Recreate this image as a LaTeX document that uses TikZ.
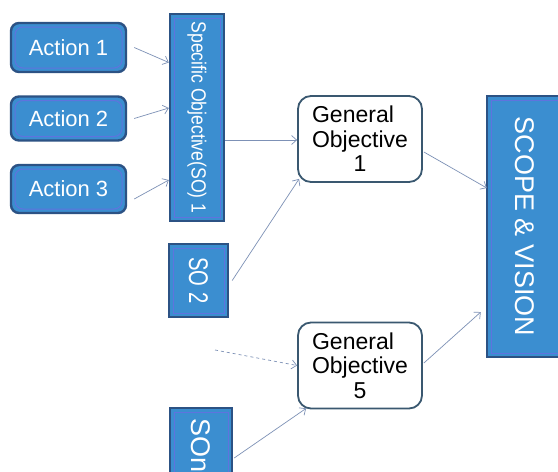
\documentclass[tikz,border=0pt]{standalone}
\usepackage{fontspec}
\setmainfont{Liberation Sans}
\usepackage{graphicx}
\usetikzlibrary{calc,arrows.meta}
\definecolor{boxfill}{RGB}{59,142,208}
\definecolor{boxborder}{RGB}{44,82,132}
\definecolor{innerline}{RGB}{95,115,222}
\definecolor{arrowcol}{RGB}{125,145,182}
\definecolor{goborder}{RGB}{58,88,112}
\begin{document}
\begin{tikzpicture}[x=1pt,y=-1pt,
  bluebox/.style={fill=boxfill,draw=boxborder,line width=2.4pt,inner sep=0pt,text=white,
    path picture={\draw[innerline,line width=1pt]
      ([shift={(4pt,-4pt)}]path picture bounding box.north west) rectangle
      ([shift={(-4pt,4pt)}]path picture bounding box.south east);}},
  actbox/.style={bluebox,rounded corners=8pt,minimum width=115pt,font=\fontsize{22}{26}\selectfont},
  sobox/.style={bluebox},
  gobox/.style={fill=white,draw=goborder,line width=1.8pt,rounded corners=13pt,inner sep=0pt,
    minimum width=124pt,minimum height=86pt,align=center,font=\fontsize{23}{24.5}\selectfont},
  conn/.style={draw=arrowcol,line width=0.7pt,-{Straight Barb[length=5pt,width=9pt]}},
]
\useasboundingbox (0,0) rectangle (558,472);
\clip (0,0) rectangle (558,472);
\fill[white] (0,0) rectangle (558,472);

% actions
\node[actbox,minimum height=49pt] (a1) at (68.5,47.5) {Action 1};
\node[actbox,minimum height=44pt] (a2) at (68.5,118.5) {Action 2};
\node[actbox,minimum height=48pt] (a3) at (68.5,189) {Action 3};

% specific objectives
\node[sobox,minimum width=54pt,minimum height=207pt,font=\fontsize{20.5}{24}\selectfont] (so1) at (197,117.5)
  {\rotatebox{-90}{\scalebox{0.86}[1]{Specific Objective(SO) 1}}};
\node[sobox,minimum width=59pt,minimum height=73pt,font=\fontsize{27}{30}\selectfont] (so2) at (198.5,280.5)
  {\rotatebox{-90}{\scalebox{0.75}[1]{SO 2}}};
\node[sobox,minimum width=62pt,minimum height=100pt] (son) at (201,458) {};
\node[rotate=-90,anchor=west,text=white,inner sep=0pt,font=\fontsize{27}{30}\selectfont] (sontext) at (201,418) {SOn};

% general objectives
\node[gobox] (go1) at (360,139) {General\rule{14pt}{0pt}\\Objective\\1};
\node[gobox] (go5) at (360,365.5) {General\rule{14pt}{0pt}\\Objective\\5};

% scope
\node[sobox,minimum width=76pt,minimum height=261pt,font=\fontsize{27}{30}\selectfont] (scope) at (525,226.5)
  {\rotatebox{-90}{SCOPE \& VISION}};

\coordinate (dstart) at (215,350);

% connectors
\draw[conn] ($(a1.east)+(7,0)$) -- ($(so1.west)+(0,-55)$);
\draw[conn] ($(a2.east)+(7,0)$) -- ($(so1.west)+(0,-9.5)$);
\draw[conn] ($(a3.east)+(7,10)$) -- ($(so1.west)+(0,62.5)$);
\draw[conn] ($(so1.east)+(0,22.5)$) -- ($(go1.west)+(0,1)$);
\draw[conn] ($(so2.east)+(3,0)$) -- ($(go1.south west)+(2,-4)$);
\draw[conn] ($(go1.east)+(1,13)$) -- ($(scope.west)+(1,-38.5)$);
\draw[conn,dashed] (dstart) -- (go5.west);
\draw[conn] ($(son.east)+(1,0)$) -- ($(go5.south west)+(9,-1)$);
\draw[conn] ($(go5.east)+(1,-2.5)$) -- ($(scope.west)+(-5,85.5)$);
\end{tikzpicture}
\end{document}
